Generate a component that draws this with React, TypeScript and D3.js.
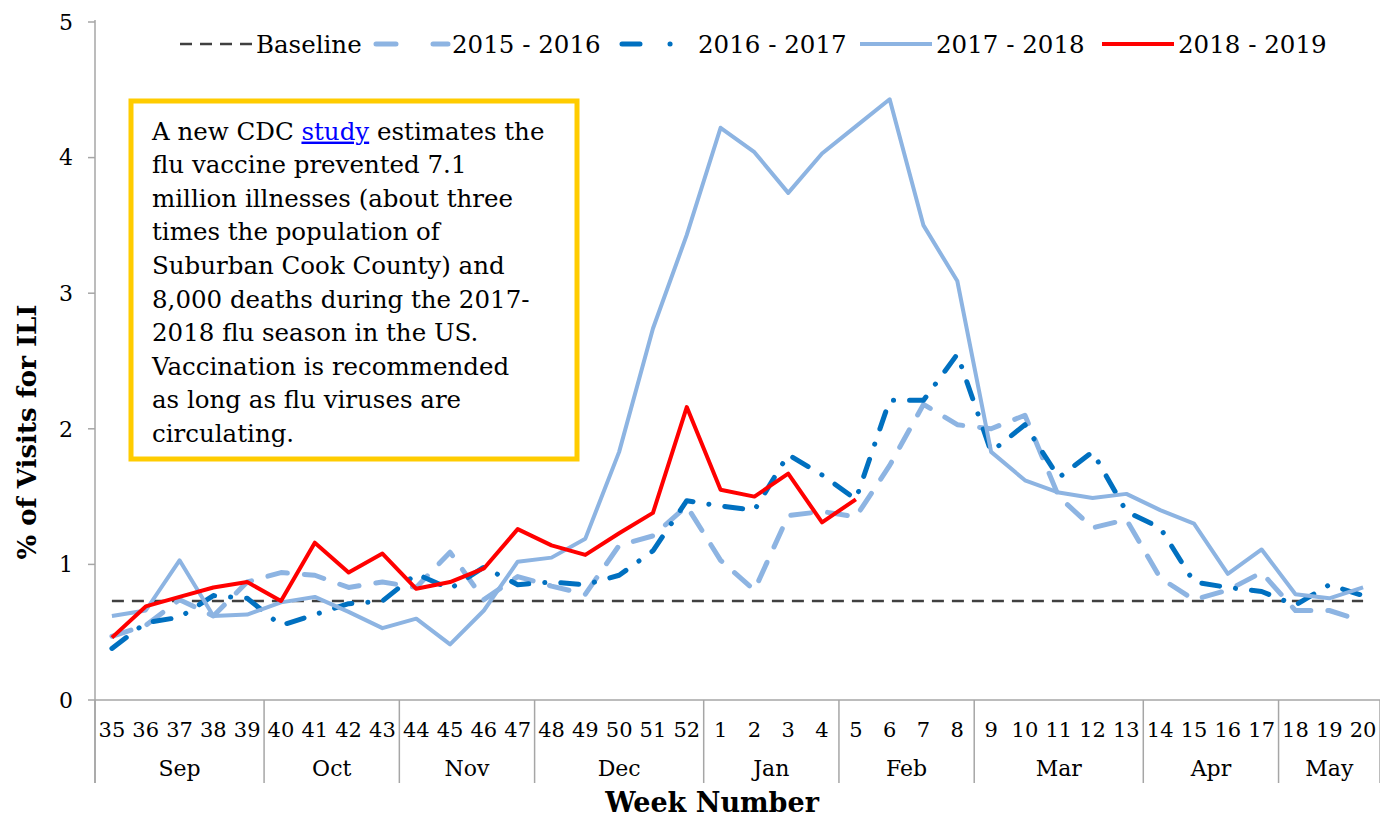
import React from "react";
import * as d3 from "d3";

const weeks = [
  "35", "36", "37", "38", "39", "40", "41", "42", "43", "44", "45", "46", "47",
  "48", "49", "50", "51", "52", "1", "2", "3", "4", "5", "6", "7", "8", "9",
  "10", "11", "12", "13", "14", "15", "16", "17", "18", "19", "20",
];

const months = [
  { name: "Sep", from: "35", to: "39" },
  { name: "Oct", from: "40", to: "43" },
  { name: "Nov", from: "44", to: "47" },
  { name: "Dec", from: "48", to: "52" },
  { name: "Jan", from: "1", to: "4" },
  { name: "Feb", from: "5", to: "8" },
  { name: "Mar", from: "9", to: "13" },
  { name: "Apr", from: "14", to: "17" },
  { name: "May", from: "18", to: "20" },
];

const baselineValue = 0.73;

const s1516 = [
  0.47, 0.55, 0.74, 0.62, 0.87, 0.94, 0.92, 0.83, 0.87, 0.83, 1.09, 0.74, 0.91,
  0.84, 0.78, 1.14, 1.21, 1.43, 1.03, 0.81, 1.36, 1.39, 1.35, 1.73, 2.18, 2.03,
  2.0, 2.1, 1.5, 1.27, 1.33, 0.9, 0.74, 0.81, 0.94, 0.66, 0.66, 0.58,
];

const s1617 = [
  0.38, 0.57, 0.61, 0.77, 0.75, 0.55, 0.63, 0.71, 0.73, 0.93, 0.82, 0.98, 0.85,
  0.87, 0.85, 0.92, 1.1, 1.47, 1.43, 1.4, 1.81, 1.66, 1.48, 2.21, 2.21, 2.55,
  1.83, 2.03, 1.64, 1.83, 1.39, 1.27, 0.87, 0.83, 0.8, 0.7, 0.85, 0.77,
];

const s1718 = [
  0.62, 0.66, 1.03, 0.62, 0.63, 0.72, 0.76, 0.65, 0.53, 0.6, 0.41, 0.66, 1.02,
  1.05, 1.19, 1.83, 2.74, 3.43, 4.22, 4.04, 3.74, 4.03, 4.23, 4.43, 3.5, 3.09,
  1.83, 1.62, 1.53, 1.49, 1.52, 1.4, 1.3, 0.93, 1.11, 0.78, 0.75, 0.83,
];

const s1819 = [
  0.46, 0.69, 0.76, 0.83, 0.87, 0.73, 1.16, 0.94, 1.08, 0.82, 0.87, 0.97, 1.26,
  1.14, 1.07, 1.23, 1.38, 2.16, 1.55, 1.5, 1.67, 1.31, 1.48,
];

const yTicks = [0, 1, 2, 3, 4, 5];

const noteLines = [
  ["A new CDC ", "study", " estimates the"],
  ["flu vaccine prevented 7.1"],
  ["million illnesses (about three"],
  ["times the population of"],
  ["Suburban Cook County) and"],
  ["8,000 deaths during the 2017-"],
  ["2018 flu season in the US."],
  ["Vaccination is recommended"],
  ["as long as flu viruses are"],
  ["circulating."],
];

const FONT = "'DejaVu Serif', Georgia, serif";
const LIGHT = "#8DB4E2";
const DARK = "#0070C0";
const RED = "#FF0000";
const BASE = "#404040";

const series = [
  { name: "2015 - 2016", values: s1516, color: LIGHT, width: 5, dash: "20,17", cap: "round" },
  { name: "2016 - 2017", values: s1617, color: DARK, width: 5, dash: "18,16,0.1,16", cap: "round" },
  { name: "2017 - 2018", values: s1718, color: LIGHT, width: 4, dash: "", cap: "butt" },
  { name: "2018 - 2019", values: s1819, color: RED, width: 4, dash: "", cap: "butt" },
];

export default function App() {
  const left = 95;
  const right = 1380;
  const top = 22;
  const bottom = 700;

  const x = d3.scaleBand<string>().domain(weeks).range([left, right]);
  const cx = (w: string) => (x(w) ?? 0) + x.bandwidth() / 2;
  const y = d3.scaleLinear().domain([0, 5]).range([bottom, top]);

  const line = d3
    .line<number>()
    .x((_, i) => cx(weeks[i]))
    .y((d) => y(d));

  const legend = [
    { label: "Baseline", x0: 180, color: BASE, width: 2.5, dash: "12,8", cap: "butt" },
    { label: "2015 - 2016", x0: 376, color: LIGHT, width: 5, dash: "20,37", cap: "round" },
    { label: "2016 - 2017", x0: 622, color: DARK, width: 5, dash: "18,30,0.1,40", cap: "round" },
    { label: "2017 - 2018", x0: 860, color: LIGHT, width: 4, dash: "", cap: "butt" },
    { label: "2018 - 2019", x0: 1102, color: RED, width: 4, dash: "", cap: "butt" },
  ];

  const sepX = [left, ...months.map((m) => (x(m.to) ?? 0) + x.bandwidth())];

  return (
    <svg
      width={1380}
      height={821}
      style={{ position: "absolute", left: 0, top: 0, background: "#fff" }}
      fontFamily={FONT}
    >
      {/* axes */}
      <line x1={left} x2={left} y1={top - 2} y2={783} stroke="#a6a6a6" strokeWidth={1.5} />
      <line x1={left} x2={right} y1={bottom} y2={bottom} stroke="#a6a6a6" strokeWidth={1.5} />
      {yTicks.map((t) => (
        <g key={t}>
          <line x1={left - 7} x2={left} y1={y(t)} y2={y(t)} stroke="#a6a6a6" strokeWidth={1.5} />
          <text x={73} y={y(t)} dy="0.35em" textAnchor="end" fontSize={22} fill="#000">
            {t}
          </text>
        </g>
      ))}
      {sepX.map((sx, i) => (
        <line key={i} x1={sx} x2={sx} y1={bottom} y2={783} stroke="#a6a6a6" strokeWidth={1.5} />
      ))}
      {weeks.map((w) => (
        <text key={w} x={cx(w)} y={730} dy="0.35em" textAnchor="middle" fontSize={21} fill="#000">
          {w}
        </text>
      ))}
      {months.map((m) => {
        const mx = ((x(m.from) ?? 0) + (x(m.to) ?? 0) + x.bandwidth()) / 2;
        return (
          <text key={m.name} x={mx} y={768} dy="0.35em" textAnchor="middle" fontSize={22} fill="#000">
            {m.name}
          </text>
        );
      })}
      <text x={712} y={803} dy="0.35em" textAnchor="middle" fontSize={27} fontWeight="bold">
        Week Number
      </text>
      <text
        transform="translate(27, 432) rotate(-90)"
        textAnchor="middle"
        dy="0.35em"
        fontSize={26}
        fontWeight="bold"
      >
        % of Visits for ILI
      </text>

      {/* baseline */}
      <line
        x1={cx(weeks[0])}
        x2={cx(weeks[weeks.length - 1])}
        y1={y(baselineValue)}
        y2={y(baselineValue)}
        stroke={BASE}
        strokeWidth={2.5}
        strokeDasharray="12,8"
      />

      {series.map((s) => (
        <path
          key={s.name}
          d={line(s.values) ?? ""}
          fill="none"
          stroke={s.color}
          strokeWidth={s.width}
          strokeDasharray={s.dash || undefined}
          strokeLinecap={s.cap as any}
          strokeLinejoin="round"
        />
      ))}

      {/* legend */}
      {legend.map((l) => (
        <g key={l.label}>
          <line
            x1={l.x0}
            x2={l.x0 + 72}
            y1={44}
            y2={44}
            stroke={l.color}
            strokeWidth={l.width}
            strokeDasharray={l.dash || undefined}
            strokeLinecap={l.cap as any}
          />
          <text x={l.x0 + 76} y={44} dy="0.35em" fontSize={24.5} fill="#000">
            {l.label}
          </text>
        </g>
      ))}

      {/* note */}
      <rect x={131} y={101} width={446} height={358} fill="#fff" stroke="#FFCC00" strokeWidth={5} />
      {noteLines.map((parts, i) => (
        <text key={i} x={152} y={131 + i * 33.6} dy="0.35em" fontSize={24.5} fill="#000">
          {parts.map((p, j) =>
            p === "study" ? (
              <tspan key={j} fill="#0000FF" style={{ textDecoration: "underline" }}>
                {p}
              </tspan>
            ) : (
              <tspan key={j}>{p}</tspan>
            )
          )}
        </text>
      ))}
    </svg>
  );
}
